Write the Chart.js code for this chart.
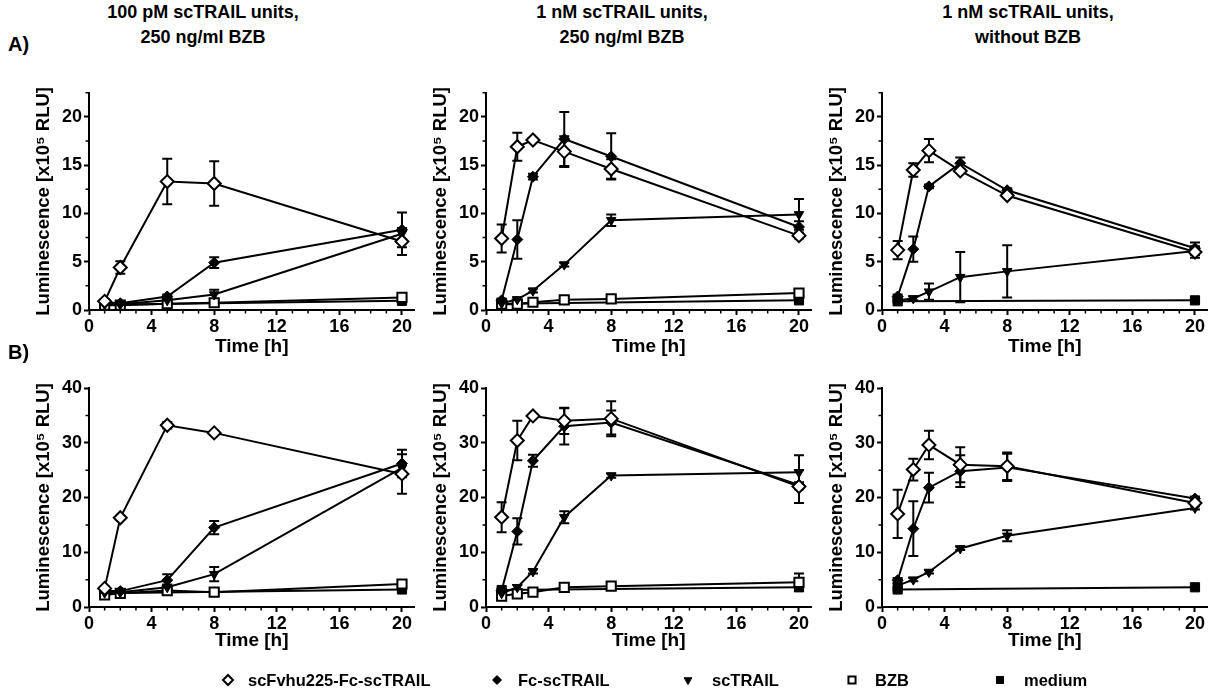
<!DOCTYPE html>
<html><head><meta charset="utf-8">
<script src="https://cdn.jsdelivr.net/npm/chart.js@4.4.0/dist/chart.umd.min.js"></script>
<style>
html,body{margin:0;padding:0;background:#fff;}
body{width:1211px;height:695px;position:relative;overflow:hidden;font-family:'Liberation Sans',Arial,Helvetica,sans-serif;font-weight:bold;color:#000;}
canvas{position:absolute;}
.ttl{position:absolute;width:340px;text-align:center;font-size:18px;line-height:25px;white-space:nowrap;top:0px;}
.lbl{position:absolute;font-size:20px;line-height:24px;left:8px;}
.leg{position:absolute;font-size:16.5px;line-height:20px;top:670px;white-space:nowrap;}
</style></head><body>
<script>
const FONT = "'Liberation Sans', Arial, Helvetica, sans-serif";

// ---------- labels ----------
const seriesNames = ['scFvhu225-Fc-scTRAIL', 'Fc-scTRAIL', 'scTRAIL', 'BZB', 'medium'];
const panelTitles = [
  ['100 pM scTRAIL units,', '250 ng/ml BZB'],
  ['1 nM scTRAIL units,', '250 ng/ml BZB'],
  ['1 nM scTRAIL units,', 'without BZB']
];
const rowLabels = ['A)', 'B)'];
const yAxisTitle = 'Luminescence [x10\u2075 RLU]';
const xAxisTitle = 'Time [h]';

// ---------- ticks ----------
const xTicks = [0, 4, 8, 12, 16, 20];
const xMinorTicks = [1, 2, 3, 5, 6, 7, 9, 10, 11, 13, 14, 15, 17, 18, 19];
const yTicksTop = [0, 5, 10, 15, 20];
const yMinorTop = [2.5, 7.5, 12.5, 17.5, 22.5];
const yTicksBottom = [0, 10, 20, 30, 40];
const yMinorBottom = [5, 15, 25, 35];

// ---------- time points ----------
const times100pM = [1, 2, 5, 8, 20];
const times1nM = [1, 2, 3, 5, 8, 20];
const mediumTimes = [1, 20];

// ---------- row A (x10^5 RLU) ----------
const a1ScFv = [0.9, 4.4, 13.3, 13.1, 7.1];      const a1ScFvSd = [0.2, 0.65, 2.35, 2.3, 1.4];
const a1Fc = [0.8, 0.7, 1.4, 4.9, 8.3];          const a1FcSd = [0.1, 0.1, 0.2, 0.55, 1.8];
const a1Trail = [0.6, 0.6, 1.0, 1.6, 7.9];       const a1TrailSd = [0.1, 0.1, 0.2, 0.5, 0.6];
const a1Bzb = [0.5, 0.5, 0.65, 0.75, 1.3];       const a1BzbSd = [0.1, 0.1, 0.1, 0.1, 0.2];
const a1Medium = [0.55, 0.95];                   const a1MediumSd = [0.1, 0.1];

const a2ScFv = [7.4, 16.9, 17.6, 16.4, 14.6, 7.7];  const a2ScFvSd = [1.45, 1.45, 0.2, 1.6, 1.0, 0.3];
const a2Fc = [1.0, 7.3, 13.8, 17.7, 15.9, 8.6];     const a2FcSd = [0.2, 2.0, 0.3, 2.8, 2.4, 0.6];
const a2Trail = [0.7, 1.1, 2.0, 4.7, 9.3, 9.9];     const a2TrailSd = [0.1, 0.2, 0.2, 0.2, 0.6, 1.6];
const a2Bzb = [0.6, 0.6, 0.8, 1.05, 1.15, 1.75];    const a2BzbSd = [0.1, 0.1, 0.1, 0.1, 0.1, 0.1];
const a2Medium = [0.65, 1.0];                       const a2MediumSd = [0.1, 0.1];

const a3ScFv = [6.2, 14.5, 16.5, 14.4, 11.85, 6.0]; const a3ScFvSd = [0.95, 0.7, 1.2, 0.2, 0.2, 0.6];
const a3Fc = [1.4, 6.3, 12.8, 15.2, 12.4, 6.4];     const a3FcSd = [0.2, 1.3, 0.2, 0.6, 0.2, 0.6];
const a3Trail = [1.0, 1.2, 1.9, 3.4, 4.0, 6.1];     const a3TrailSd = [0.1, 0.2, 0.85, 2.6, 2.7, 0.4];
const a3Medium = [0.9, 1.0];                        const a3MediumSd = [0.1, 0.1];

// ---------- row B (x10^5 RLU) ----------
const b1ScFv = [3.4, 16.3, 33.2, 31.8, 24.3];    const b1ScFvSd = [0.3, 0.3, 0.6, 0.3, 3.6];
const b1Fc = [2.9, 2.9, 4.9, 14.5, 26.2];        const b1FcSd = [0.3, 0.3, 1.1, 1.2, 2.5];
const b1Trail = [2.6, 2.7, 3.6, 6.0, 25.4];      const b1TrailSd = [0.2, 0.2, 0.5, 1.3, 0.8];
const b1Bzb = [2.2, 2.5, 3.0, 2.7, 4.2];         const b1BzbSd = [0.2, 0.2, 0.2, 0.2, 0.3];
const b1Medium = [2.5, 3.2];                     const b1MediumSd = [0.2, 0.2];

const b2ScFv = [16.4, 30.4, 34.9, 34.0, 34.4, 22.0]; const b2ScFvSd = [2.75, 3.6, 0.3, 2.4, 3.2, 3.0];
const b2Fc = [3.0, 13.8, 26.7, 33.0, 33.7, 22.3];    const b2FcSd = [0.3, 2.4, 1.1, 3.3, 2.2, 0.5];
const b2Trail = [2.5, 3.6, 6.5, 16.4, 24.0, 24.6];   const b2TrailSd = [0.3, 0.4, 0.4, 1.1, 0.4, 3.1];
const b2Bzb = [2.0, 2.4, 2.7, 3.6, 3.8, 4.5];        const b2BzbSd = [0.2, 0.2, 0.2, 0.3, 0.3, 1.6];
const b2Medium = [3.1, 3.6];                         const b2MediumSd = [0.2, 0.2];

const b3ScFv = [17.0, 25.1, 29.6, 26.0, 25.7, 19.0]; const b3ScFvSd = [4.4, 2.0, 2.6, 3.2, 2.5, 0.4];
const b3Fc = [4.9, 14.3, 21.8, 24.8, 25.5, 19.8];    const b3FcSd = [0.4, 5.0, 2.7, 2.9, 2.5, 0.4];
const b3Trail = [3.9, 5.0, 6.4, 10.7, 13.0, 18.1];   const b3TrailSd = [0.3, 0.3, 0.3, 0.3, 1.0, 0.3];
const b3Medium = [3.2, 3.6];                         const b3MediumSd = [0.2, 0.2];

// ---------- styles ----------
const markerStyles = [
  {pointStyle: 'rectRot', pointRadius: 6.5, pointRotation: 0, pointBackgroundColor: '#fff', pointBorderWidth: 2},
  {pointStyle: 'rectRot', pointRadius: 5.5, pointRotation: 0, pointBackgroundColor: '#000', pointBorderWidth: 1},
  {pointStyle: 'triangle', pointRadius: 5.5, pointRotation: 180, pointBackgroundColor: '#000', pointBorderWidth: 1},
  {pointStyle: 'rect', pointRadius: 6.5, pointRotation: 0, pointBackgroundColor: '#fff', pointBorderWidth: 2},
  {pointStyle: 'rect', pointRadius: 6.5, pointRotation: 0, pointBackgroundColor: '#000', pointBorderWidth: 1}
];

function series(k, xs, ys, sd) {
  return Object.assign({
    label: seriesNames[k],
    data: xs.map((x, i) => ({x: x, y: ys[i]})),
    sd: sd,
    borderColor: '#000',
    borderWidth: 2,
    pointBorderColor: '#000',
    tension: 0,
    fill: false,
    clip: false
  }, markerStyles[k]);
}

const panels = [
  {row: 0, col: 0, ds: [series(0, times100pM, a1ScFv, a1ScFvSd), series(1, times100pM, a1Fc, a1FcSd), series(2, times100pM, a1Trail, a1TrailSd), series(3, times100pM, a1Bzb, a1BzbSd), series(4, mediumTimes, a1Medium, a1MediumSd)]},
  {row: 0, col: 1, ds: [series(0, times1nM, a2ScFv, a2ScFvSd), series(1, times1nM, a2Fc, a2FcSd), series(2, times1nM, a2Trail, a2TrailSd), series(3, times1nM, a2Bzb, a2BzbSd), series(4, mediumTimes, a2Medium, a2MediumSd)]},
  {row: 0, col: 2, ds: [series(0, times1nM, a3ScFv, a3ScFvSd), series(1, times1nM, a3Fc, a3FcSd), series(2, times1nM, a3Trail, a3TrailSd), series(4, mediumTimes, a3Medium, a3MediumSd)]},
  {row: 1, col: 0, ds: [series(0, times100pM, b1ScFv, b1ScFvSd), series(1, times100pM, b1Fc, b1FcSd), series(2, times100pM, b1Trail, b1TrailSd), series(3, times100pM, b1Bzb, b1BzbSd), series(4, mediumTimes, b1Medium, b1MediumSd)]},
  {row: 1, col: 1, ds: [series(0, times1nM, b2ScFv, b2ScFvSd), series(1, times1nM, b2Fc, b2FcSd), series(2, times1nM, b2Trail, b2TrailSd), series(3, times1nM, b2Bzb, b2BzbSd), series(4, mediumTimes, b2Medium, b2MediumSd)]},
  {row: 1, col: 2, ds: [series(0, times1nM, b3ScFv, b3ScFvSd), series(1, times1nM, b3Fc, b3FcSd), series(2, times1nM, b3Trail, b3TrailSd), series(4, mediumTimes, b3Medium, b3MediumSd)]}
];

// ---------- layout ----------
const axisLeft = [89, 486, 882];     // page x of the y axis
const Y_AXIS_W = 89;
const X_MAX = 20.8;
const PLOT_W = 325.5;
const CANVAS_W = 430;
const rowGeom = [
  {canvasTop: 80, padTop: 12.7, height: 280, yMax: 22.5, yTicks: yTicksTop, yMinor: yMinorTop, titlePadBottom: 2},
  {canvasTop: 375, padTop: 13, height: 282, yMax: 40, yTicks: yTicksBottom, yMinor: yMinorBottom, titlePadBottom: 5}
];

// ---------- plugins ----------
const errorBars = {
  id: 'errorBars',
  beforeDatasetsDraw(chart) {
    const ctx = chart.ctx, xs = chart.scales.x, ys = chart.scales.y;
    ctx.save();
    ctx.strokeStyle = '#000';
    ctx.lineWidth = 2;
    chart.data.datasets.forEach(ds => {
      if (!ds.sd) return;
      ds.data.forEach((p, i) => {
        const e = ds.sd[i];
        if (!e) return;
        const px = xs.getPixelForValue(p.x);
        const t = ys.getPixelForValue(p.y + e);
        const b = ys.getPixelForValue(Math.max(0, p.y - e));
        ctx.beginPath();
        ctx.moveTo(px, t); ctx.lineTo(px, b);
        ctx.moveTo(px - 5, t); ctx.lineTo(px + 5, t);
        ctx.moveTo(px - 5, b); ctx.lineTo(px + 5, b);
        ctx.stroke();
      });
    });
    ctx.restore();
  }
};

const minorTicks = {
  id: 'minorTicks',
  afterDraw(chart, args, opts) {
    const ctx = chart.ctx, area = chart.chartArea, xs = chart.scales.x, ys = chart.scales.y;
    ctx.save();
    ctx.strokeStyle = '#000';
    ctx.lineWidth = 1.5;
    ctx.beginPath();
    (opts.x || []).forEach(v => {
      const px = xs.getPixelForValue(v);
      ctx.moveTo(px, area.bottom); ctx.lineTo(px, area.bottom + 3.5);
    });
    (opts.y || []).forEach(v => {
      const py = ys.getPixelForValue(v);
      ctx.moveTo(area.left, py); ctx.lineTo(area.left - 3.5, py);
    });
    ctx.stroke();
    ctx.restore();
  }
};

// ---------- charts ----------
panels.forEach(p => {
  const g = rowGeom[p.row];
  const cv = document.createElement('canvas');
  cv.width = CANVAS_W; cv.height = g.height;
  cv.style.left = (axisLeft[p.col] - Y_AXIS_W) + 'px';
  cv.style.top = g.canvasTop + 'px';
  cv.style.width = CANVAS_W + 'px'; cv.style.height = g.height + 'px';
  document.body.appendChild(cv);

  new Chart(cv, {
    type: 'line',
    data: {datasets: p.ds},
    plugins: [errorBars, minorTicks],
    options: {
      responsive: false,
      animation: false,
      events: [],
      layout: {padding: {top: g.padTop, left: 0, bottom: 0, right: CANVAS_W - Y_AXIS_W - PLOT_W}},
      plugins: {
        legend: {display: false},
        tooltip: {enabled: false},
        minorTicks: {x: xMinorTicks, y: g.yMinor}
      },
      scales: {
        x: {
          type: 'linear', min: 0, max: X_MAX,
          border: {display: true, color: '#000', width: 2},
          grid: {drawOnChartArea: false, drawTicks: true, tickLength: 5, tickColor: '#000', tickWidth: 2},
          ticks: {color: '#000', padding: 1, maxRotation: 0, autoSkip: false, font: {family: FONT, size: 18, weight: 'bold'}},
          afterBuildTicks: s => { s.ticks = xTicks.map(v => ({value: v})); },
          title: {display: true, text: xAxisTitle, color: '#000', font: {family: FONT, size: 19, weight: 'bold'}, padding: {top: 0, bottom: g.titlePadBottom}},
          afterFit: s => { s.height = 50; s.paddingLeft = 0; s.paddingRight = 0; }
        },
        y: {
          type: 'linear', min: 0, max: g.yMax,
          border: {display: true, color: '#000', width: 2},
          grid: {drawOnChartArea: false, drawTicks: true, tickLength: 5, tickColor: '#000', tickWidth: 2},
          ticks: {color: '#000', padding: 2, autoSkip: false, font: {family: FONT, size: 18, weight: 'bold'}},
          afterBuildTicks: s => { s.ticks = g.yTicks.map(v => ({value: v})); },
          title: {display: true, text: yAxisTitle, color: '#000', font: {family: FONT, size: 18.5, weight: 'bold'}, padding: {top: 33, bottom: 0}},
          afterFit: s => { s.width = Y_AXIS_W; s.paddingTop = 0; s.paddingBottom = 0; }
        }
      }
    }
  });
});

// ---------- titles ----------
const titleCenters = [203, 622, 1028];
panelTitles.forEach((t, i) => {
  const d = document.createElement('div');
  d.className = 'ttl';
  d.style.left = (titleCenters[i] - 170) + 'px';
  d.innerHTML = t[0] + '<br>' + t[1];
  document.body.appendChild(d);
});
const rowLabelTops = [32, 340];
rowLabels.forEach((t, i) => {
  const d = document.createElement('div');
  d.className = 'lbl';
  d.style.top = rowLabelTops[i] + 'px';
  d.textContent = t;
  document.body.appendChild(d);
});

// ---------- legend ----------
const legSymbolX = [228, 497, 688, 852, 1000];
const legTextX = [248, 518, 712, 875, 1024];
const legCanvas = document.createElement('canvas');
legCanvas.width = 1211; legCanvas.height = 30;
legCanvas.style.left = '0px'; legCanvas.style.top = '665px';
document.body.appendChild(legCanvas);
const lctx = legCanvas.getContext('2d');
const legRadius = [5, 4.5, 4.5, 5, 5];
seriesNames.forEach((name, k) => {
  const st = markerStyles[k];
  lctx.fillStyle = st.pointBackgroundColor;
  lctx.strokeStyle = '#000';
  lctx.lineWidth = st.pointBorderWidth;
  Chart.helpers.drawPoint(lctx, {pointStyle: st.pointStyle, rotation: st.pointRotation, radius: legRadius[k], borderWidth: st.pointBorderWidth}, legSymbolX[k], 15);
  const s = document.createElement('div');
  s.className = 'leg';
  s.style.left = legTextX[k] + 'px';
  s.textContent = name;
  document.body.appendChild(s);
});
</script>
</body></html>
